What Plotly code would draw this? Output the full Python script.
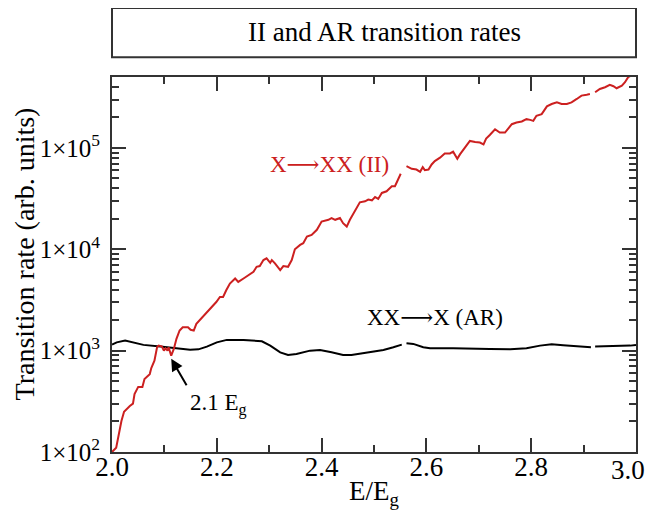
import plotly.graph_objects as go

# X -> XX (II) impact ionization rate (None marks missing points)
ii_x = [2.000, 2.008, 2.018, 2.023, 2.034, 2.040, 2.043, 2.050, 2.058, 2.062, 2.072, 2.075,
        2.081, 2.086, 2.089, 2.095, 2.099, 2.102, 2.106, 2.108, 2.113, 2.118, 2.123, 2.129,
        2.135, 2.145, 2.150, 2.156, 2.161, 2.170, 2.180, 2.190, 2.199, 2.206, 2.212, 2.218,
        2.225, 2.235, 2.241, 2.251, 2.260, 2.270, 2.276, 2.282, 2.289, 2.295, 2.302, 2.305,
        2.311, 2.321, 2.327, 2.336, 2.343, 2.349, 2.359, 2.365, 2.372, 2.381, 2.391, 2.400,
        2.413, 2.419, 2.426, 2.435, 2.441, 2.448, 2.454, 2.464, 2.473, 2.483, 2.489, 2.496,
        2.502, 2.508, 2.515, 2.524, 2.534, 2.540, 2.546, 2.551, 2.556, 2.562, 2.572, 2.581,
        2.588, 2.593, 2.597, 2.604, 2.610, 2.616, 2.626, 2.635, 2.645, 2.651, 2.659, 2.664,
        2.674, 2.683, 2.693, 2.702, 2.709, 2.714, 2.721, 2.731, 2.740, 2.750, 2.763, 2.772,
        2.782, 2.791, 2.798, 2.804, 2.810, 2.820, 2.830, 2.839, 2.849, 2.858, 2.868, 2.877,
        2.887, 2.896, 2.906, 2.912, 2.917, 2.922, 2.931, 2.941, 2.950, 2.957, 2.963, 2.973,
        2.979, 2.985, 2.992, 3.000]
ii_y = [100, 110, 202, 250, 284, 300, 372, 439, 439, 524, 587, 673,
        796, 1079, 1121, 1104, 1000, 1054, 1000, 1079, 892, 1040, 1307, 1580,
        1703, 1703, 1606, 1580, 1841, 2066, 2399, 2692, 3020, 3381, 3381, 3945,
        4593, 5152, 4767, 5152, 5559, 5997, 6718, 6828, 7829, 8143, 7362, 7829,
        7266, 6223, 6828, 6718, 7829, 10000, 11040, 11480, 13340, 13870, 15560, 18800,
        19540, 20320, 19540, 20320, 18110, 16750, 19540, 23770, 29040, 29720, 30900, 30410,
        32850, 31390, 35990, 37330, 41880, 41880, 48790, 55600, None, 66100, 62230, 61240,
        58170, 64590, 60360, 61240, 68710, 74150, 80170, 88370, 88370, 91900, 78300, 86400,
        100700, 117300, 114600, 113000, 108600, 123700, 134300, 153000, 141800, 141800, 171500, 178300,
        182400, 192300, 189300, 184900, 207500, 215800, 257200, 271200, 281800, 271200, 271200, 281800,
        304300, 328300, 335300, 340600, None, 354300, 382200, 397200, 418800, 406400, 388200, 412100,
        444900, 499100, 517600, 550000]

# XX -> X (AR) Auger recombination rate
ar_x = [2.000, 2.009, 2.025, 2.041, 2.060, 2.092, 2.123, 2.149, 2.165, 2.181, 2.200, 2.219,
        2.251, 2.286, 2.302, 2.321, 2.336, 2.352, 2.378, 2.397, 2.419, 2.441, 2.457, 2.480,
        2.505, 2.518, 2.537, 2.553, 2.557, 2.562, 2.575, 2.594, 2.607, 2.651, 2.683, 2.721,
        2.760, 2.791, 2.817, 2.839, 2.861, 2.893, 2.914, 2.918, 2.922, 2.950, 2.989, 3.000]
ar_y = [1147, 1208, 1256, 1192, 1140, 1096, 1064, 1023, 1030, 1096, 1208, 1277,
        1277, 1237, 1121, 962, 906, 927, 1000, 1016, 962, 906, 906, 949,
        984, 1016, 1079, 1147, None, 1182, 1166, 1079, 1054, 1054, 1054, 1040,
        1030, 1054, 1121, 1155, 1129, 1096, 1079, None, 1096, 1104, 1121, 1139]

x_tickvals = [2.0, 2.2, 2.4, 2.6, 2.8, 3.0]
x_ticktext = ["2.0", "2.2", "2.4", "2.6", "2.8", ""]   # last label drawn separately so it is not clipped
x_last_label = "3.0"
y_tickvals = [1e2, 1e3, 1e4, 1e5]
y_ticktext = ["1×10<sup>2</sup>", "1×10<sup>3</sup>", "1×10<sup>4</sup>", "1×10<sup>5</sup>"]
y_minor = [m * 10 ** e for e in range(2, 6) for m in range(2, 10)]

FONT = "Liberation Serif, Times New Roman, DejaVu Serif, serif"
RED = "#cc2020"
AXC = "#333333"

fig = go.Figure()
fig.add_trace(go.Scatter(x=ar_x, y=ar_y, mode="lines", connectgaps=False,
                         line=dict(color="black", width=2), name="XX→X (AR)"))
fig.add_trace(go.Scatter(x=ii_x, y=ii_y, mode="lines", connectgaps=False,
                         line=dict(color=RED, width=2), name="X→XX (II)"))

axis_common = dict(showline=True, linecolor=AXC, linewidth=2, mirror="ticks",
                   ticks="inside", tickcolor=AXC, tickwidth=2, ticklen=14,
                   showgrid=False, zeroline=False, automargin=False)

fig.update_xaxes(range=[2.0, 3.0], tickmode="array", tickvals=x_tickvals, ticktext=x_ticktext,
                 tickfont=dict(family=FONT, size=27, color="black"), ticklabelstandoff=-10,
                 minor=dict(ticks="inside", ticklen=7, tickwidth=2, tickcolor=AXC,
                            tickvals=[2.1, 2.3, 2.5, 2.7, 2.9]),
                 **axis_common)
fig.update_yaxes(type="log", range=[2.0, 5.70], tickmode="array", tickvals=y_tickvals,
                 ticktext=y_ticktext, ticklabelstandoff=5,
                 tickfont=dict(family=FONT, size=25, color="black"),
                 minor=dict(ticks="inside", ticklen=7, tickwidth=2, tickcolor=AXC,
                            tickvals=y_minor),
                 **axis_common)

fig.add_annotation(x=x_tickvals[-1], xref="x", yref="paper", y=-0.047, yanchor="middle",
                   xanchor="center", xshift=-8, text=x_last_label, showarrow=False,
                   font=dict(family=FONT, size=27, color="black"))

# axis titles
fig.add_annotation(xref="paper", yref="paper", x=0.5, y=-0.058, yanchor="top",
                   text="E/E<sub>g</sub>", showarrow=False,
                   font=dict(family=FONT, size=27, color="black"))
fig.add_annotation(xref="paper", yref="paper", x=-0.167, y=0.528, textangle=-90,
                   xanchor="center", yanchor="middle",
                   text="Transition rate (arb. units)", showarrow=False,
                   font=dict(family=FONT, size=28, color="black"))

# title box
fig.add_shape(type="rect", xref="paper", yref="paper", x0=0, x1=1, y0=1.053, y1=1.184,
              line=dict(color=AXC, width=2), fillcolor="white")
fig.add_annotation(xref="paper", yref="paper", x=0.52, y=1.1187, text="II and AR transition rates",
                   showarrow=False, font=dict(family=FONT, size=27, color="black"),
                   xanchor="center", yanchor="middle")

# curve labels (log axis: y given as log10)
fig.add_annotation(x=2.416, y=4.84, text="X⟶XX (II)", showarrow=False,
                   font=dict(family=FONT, size=23, color=RED))
fig.add_annotation(x=2.616, y=3.33, text="XX⟶X (AR)", showarrow=False,
                   font=dict(family=FONT, size=23, color="black"))

# 2.1 Eg arrow
fig.add_annotation(x=2.113, y=2.92, ax=2.144, ay=2.645, axref="x", ayref="y",
                   text="", showarrow=True, arrowhead=2, arrowsize=1.2, arrowwidth=2,
                   arrowcolor="black")
fig.add_annotation(x=2.203, y=2.47, text="2.1 E<sub>g</sub>", showarrow=False,
                   font=dict(family=FONT, size=23, color="black"))

# page body adds an 8px offset; size the figure so the plot lands where the reference has it
fig.update_layout(width=647, height=506, margin=dict(l=104, r=19, t=69, b=62),
                  paper_bgcolor="white", plot_bgcolor="white", showlegend=False)

fig.write_html("out.html")
